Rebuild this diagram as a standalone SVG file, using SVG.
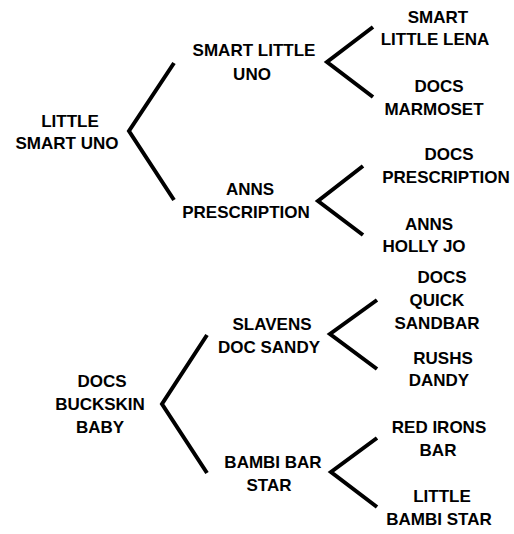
<svg xmlns="http://www.w3.org/2000/svg" width="514" height="534" viewBox="0 0 514 534">
<style>
text{font-family:"Liberation Sans",Arial,sans-serif;font-weight:bold;font-size:17px;fill:#000;text-anchor:middle}
.c{fill:none;stroke:#000;stroke-width:4;stroke-linejoin:miter;stroke-linecap:butt}
</style>
<rect width="514" height="534" fill="#fff"/>
<g id="connectors">
<polyline class="c" points="174,63 129,131 174,200"/>
<polyline class="c" points="373,27 327,62 373,97"/>
<polyline class="c" points="363,166 318,201 363,235"/>
<polyline class="c" points="207,335 162,404 207,473"/>
<polyline class="c" points="377,300 330,334 377,369"/>
<polyline class="c" points="377,438 331,472 377,507"/>
</g>
<g id="n-little-smart-uno"><text x="70" y="127">LITTLE</text><text x="67" y="149">SMART UNO</text></g>
<g id="n-smart-little-uno"><text x="254" y="56">SMART LITTLE</text><text x="252" y="80">UNO</text></g>
<g id="n-anns-prescription"><text x="250" y="195">ANNS</text><text x="246" y="218">PRESCRIPTION</text></g>
<g id="n-smart-little-lena"><text x="438" y="23">SMART</text><text x="435" y="45">LITTLE LENA</text></g>
<g id="n-docs-marmoset"><text x="439" y="92">DOCS</text><text x="434" y="115">MARMOSET</text></g>
<g id="n-docs-prescription"><text x="449" y="160">DOCS</text><text x="446" y="183">PRESCRIPTION</text></g>
<g id="n-anns-holly-jo"><text x="429" y="230">ANNS</text><text x="424" y="252">HOLLY JO</text></g>
<g id="n-docs-buckskin-baby"><text x="102" y="387">DOCS</text><text x="100" y="410">BUCKSKIN</text><text x="100" y="433">BABY</text></g>
<g id="n-slavens-doc-sandy"><text x="272" y="330">SLAVENS</text><text x="269" y="353">DOC SANDY</text></g>
<g id="n-bambi-bar-star"><text x="273" y="468">BAMBI BAR</text><text x="269" y="491">STAR</text></g>
<g id="n-docs-quick-sandbar"><text x="442" y="283">DOCS</text><text x="437" y="306">QUICK</text><text x="437" y="329">SANDBAR</text></g>
<g id="n-rushs-dandy"><text x="443" y="364">RUSHS</text><text x="439" y="386">DANDY</text></g>
<g id="n-red-irons-bar"><text x="439" y="433">RED IRONS</text><text x="438" y="456">BAR</text></g>
<g id="n-little-bambi-star"><text x="442" y="502">LITTLE</text><text x="439" y="525">BAMBI STAR</text></g>
</svg>
